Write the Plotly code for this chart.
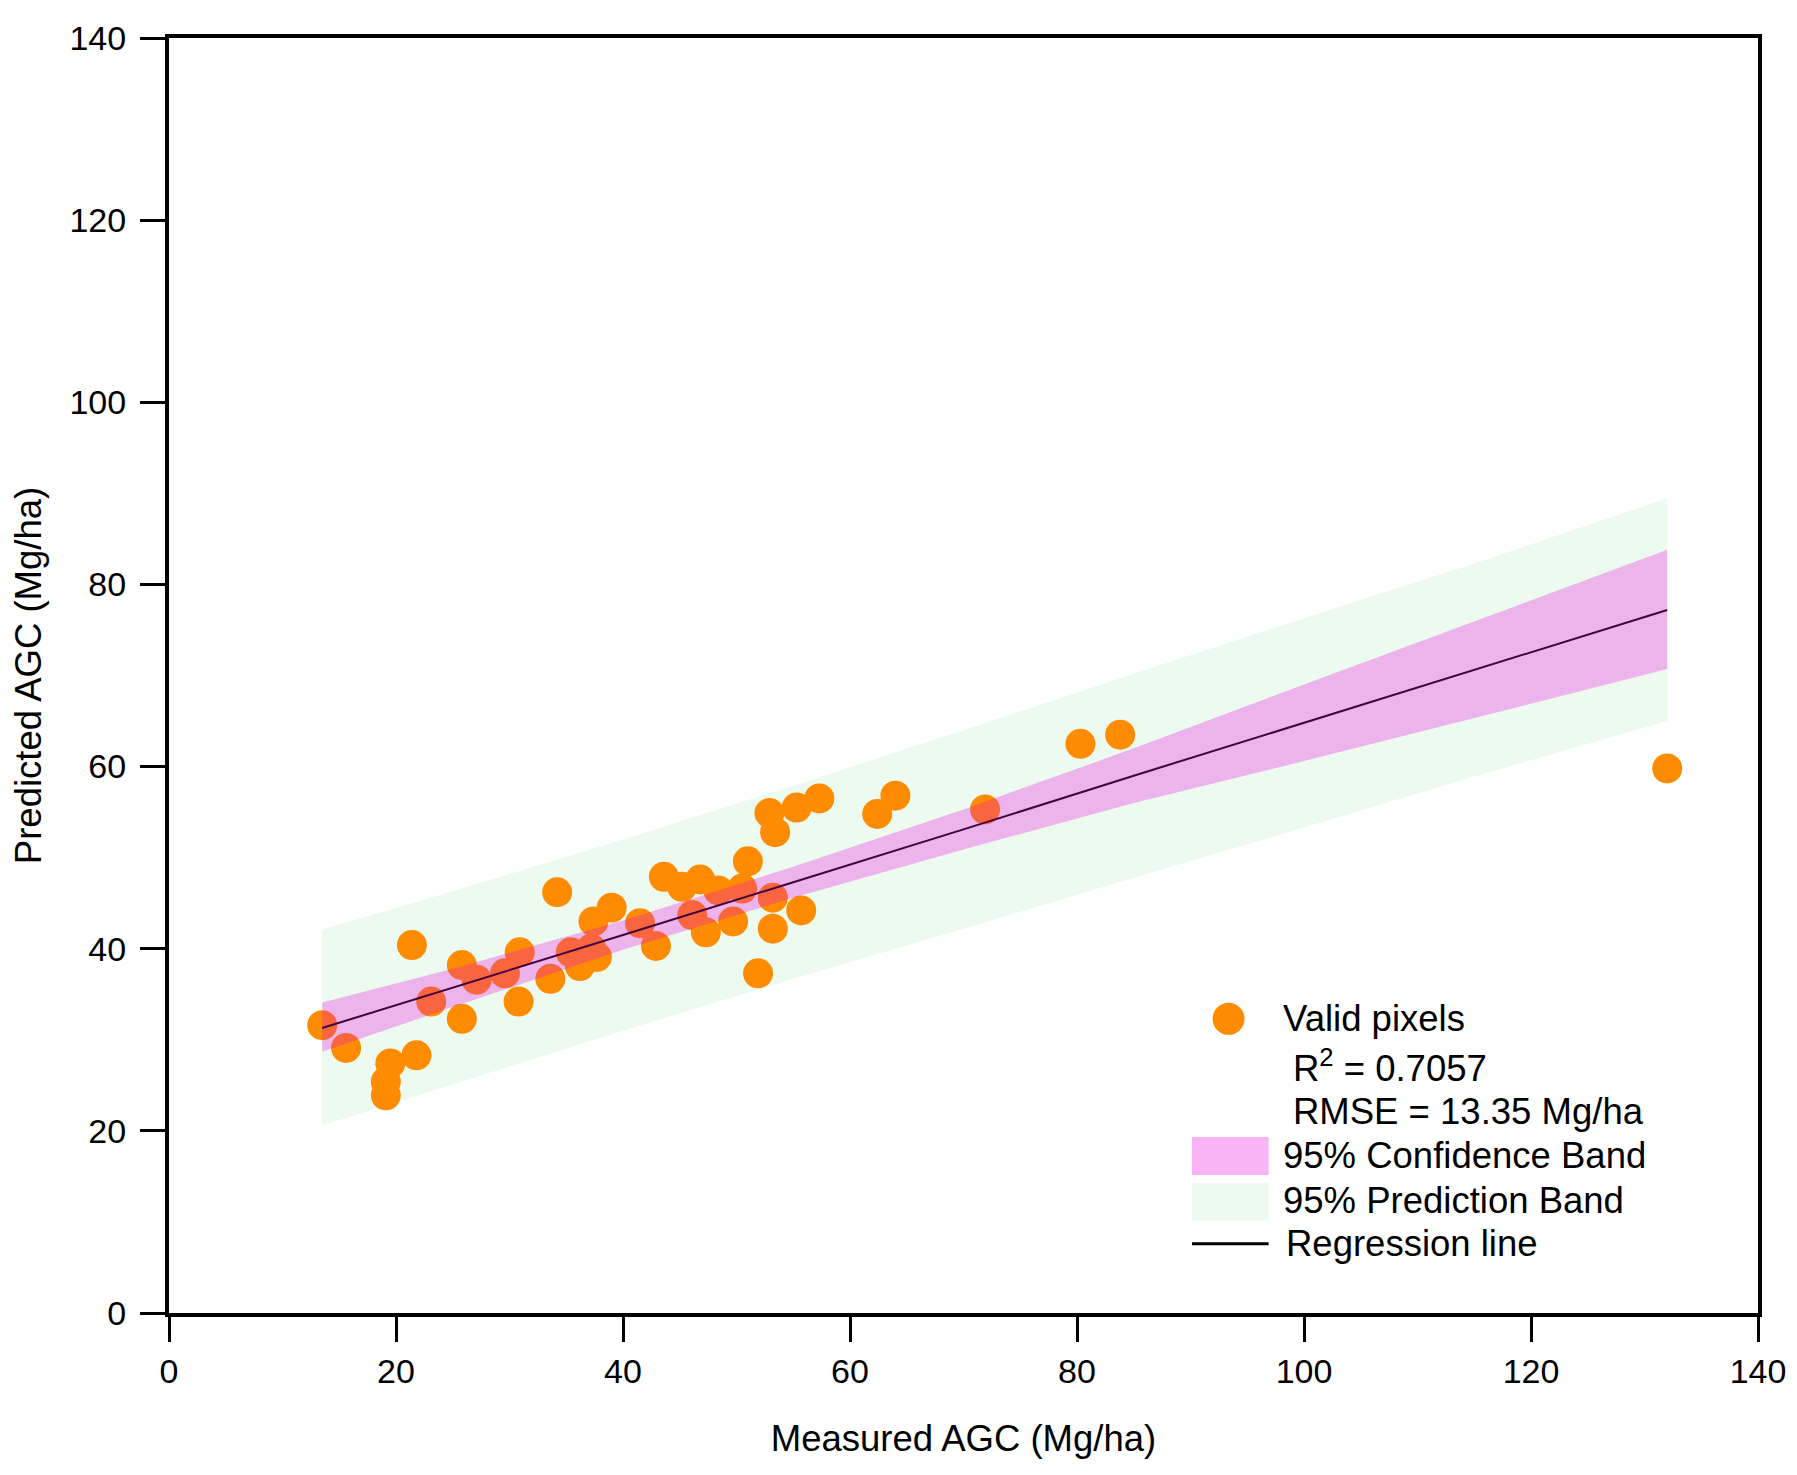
import plotly.graph_objects as go

# ---- data ----
measured = [13.5, 15.6, 19.1, 19.1, 19.5, 21.4, 21.8, 23.1, 25.8, 25.8,
            27.1, 29.6, 30.9, 30.8, 33.6, 34.2, 35.4, 36.2, 37.2, 37.7,
            37.4, 39.0, 41.5, 42.9, 43.6, 45.2, 46.1, 46.8, 47.3, 48.4,
            49.7, 50.5, 51.0, 51.9, 52.9, 53.2, 53.2, 53.4, 55.3, 55.7,
            57.3, 62.4, 64.0, 71.9, 80.3, 83.8, 132.0]
predicted = [31.6, 29.1, 23.9, 25.4, 27.4, 40.4, 28.3, 34.2, 38.2, 32.3,
             36.6, 37.3, 39.6, 34.2, 36.7, 46.2, 39.6, 38.1, 40.0, 39.1,
             43.0, 44.5, 42.8, 40.3, 47.9, 46.8, 43.7, 47.6, 41.8, 46.4,
             43.0, 46.6, 49.6, 37.3, 54.9, 45.6, 42.2, 52.8, 55.5, 44.2,
             56.5, 54.8, 56.8, 55.3, 62.5, 63.5, 59.8]

band_x = [13.5, 25, 40, 55, 70, 85, 100, 115, 132]
reg_y = [31.3, 35.7, 41.5, 47.3, 53.1, 59.0, 64.8, 70.6, 77.2]
conf_upper = [34.1, 37.8, 43.1, 49.0, 55.3, 62.0, 69.0, 75.9, 83.8]
conf_lower = [28.7, 33.6, 39.9, 45.6, 50.9, 56.0, 60.6, 65.3, 70.7]
pred_upper = [42.1, 46.3, 52.0, 57.9, 64.0, 70.2, 76.3, 82.3, 89.45]
pred_lower = [20.6, 25.1, 31.0, 36.7, 42.2, 47.8, 53.3, 58.9, 65.0]

x_ticks = [0, 20, 40, 60, 80, 100, 120, 140]
y_ticks = [0, 20, 40, 60, 80, 100, 120, 140]

legend_lines = ["Valid pixels", "R<sup>2</sup> = 0.7057", "RMSE = 13.35 Mg/ha",
                "95% Confidence Band", "95% Prediction Band", "Regression line"]

ORANGE = "#FF8C00"
PINK_BAND = "rgba(234,0,223,0.28)"
PINK_SWATCH = "#F9B4F6"
GREEN = "#EDFAF0"
FONT = "Liberation Sans, Arial, sans-serif"

fig = go.Figure()

# prediction band (below points)
fig.add_trace(go.Scatter(
    x=band_x + band_x[::-1], y=pred_upper + pred_lower[::-1],
    fill="toself", fillcolor=GREEN, line=dict(width=0), mode="lines",
    hoverinfo="skip", showlegend=False))

# points
fig.add_trace(go.Scatter(
    x=measured, y=predicted, mode="markers",
    marker=dict(color=ORANGE, size=30, line=dict(width=0)),
    showlegend=False))

# regression line
fig.add_trace(go.Scatter(
    x=band_x, y=reg_y, mode="lines",
    line=dict(color="black", width=2), showlegend=False))

# confidence band (translucent, on top)
fig.add_trace(go.Scatter(
    x=band_x + band_x[::-1], y=conf_upper + conf_lower[::-1],
    fill="toself", fillcolor=PINK_BAND, line=dict(width=0), mode="lines",
    hoverinfo="skip", showlegend=False))

axis_common = dict(
    showgrid=False, zeroline=False, showline=True, linecolor="black",
    linewidth=4, mirror=True, ticks="outside", ticklen=25, tickwidth=3,
    tickcolor="black", tickfont=dict(family=FONT, size=34, color="black"),
    range=[0, 140], tickmode="array",
)

fig.update_xaxes(**axis_common, tickvals=x_ticks,
                 ticktext=[str(v) for v in x_ticks],
                 title=dict(text="Measured AGC (Mg/ha)",
                            font=dict(family=FONT, size=36.5, color="black"),
                            standoff=38))
fig.update_yaxes(**axis_common, tickvals=y_ticks,
                 ticktext=[str(v) for v in y_ticks],
                 ticklabelstandoff=7,
                 title=dict(text="Predicted AGC (Mg/ha)",
                            font=dict(family=FONT, size=36.5, color="black"),
                            standoff=18))

# ---- custom legend (paper coordinates) ----
shapes = [
    dict(type="circle", xref="paper", yref="paper", xsizemode="pixel",
         ysizemode="pixel", xanchor=0.6668, yanchor=0.2307,
         x0=-16, x1=16, y0=-16, y1=16, fillcolor=ORANGE, line=dict(width=0)),
    dict(type="rect", xref="paper", yref="paper", x0=0.6438, x1=0.692,
         y0=0.1082, y1=0.138, fillcolor=PINK_SWATCH, line=dict(width=0)),
    dict(type="rect", xref="paper", yref="paper", x0=0.6438, x1=0.692,
         y0=0.0725, y1=0.102, fillcolor=GREEN, line=dict(width=0)),
    dict(type="line", xref="paper", yref="paper", x0=0.6438, x1=0.692,
         y0=0.0544, y1=0.0544, line=dict(color="black", width=3)),
]
ann_pos = [(0.6998, 0.2307), (0.7064, 0.1937), (0.7064, 0.158),
           (0.6998, 0.1239), (0.6998, 0.0886), (0.7014, 0.0546)]
annotations = [
    dict(text=t, x=p[0], y=p[1], xref="paper", yref="paper",
         xanchor="left", yanchor="middle", showarrow=False,
         font=dict(family=FONT, size=36.5, color="black"))
    for t, p in zip(legend_lines, ann_pos)
]

# page body has an 8px margin, so the figure is offset by 8px
fig.update_layout(
    width=1781, height=1459,
    margin=dict(l=161, r=31, t=30, b=154, autoexpand=False),
    plot_bgcolor="white", paper_bgcolor="white",
    shapes=shapes, annotations=annotations,
    showlegend=False,
)

fig.write_html("out.html")
